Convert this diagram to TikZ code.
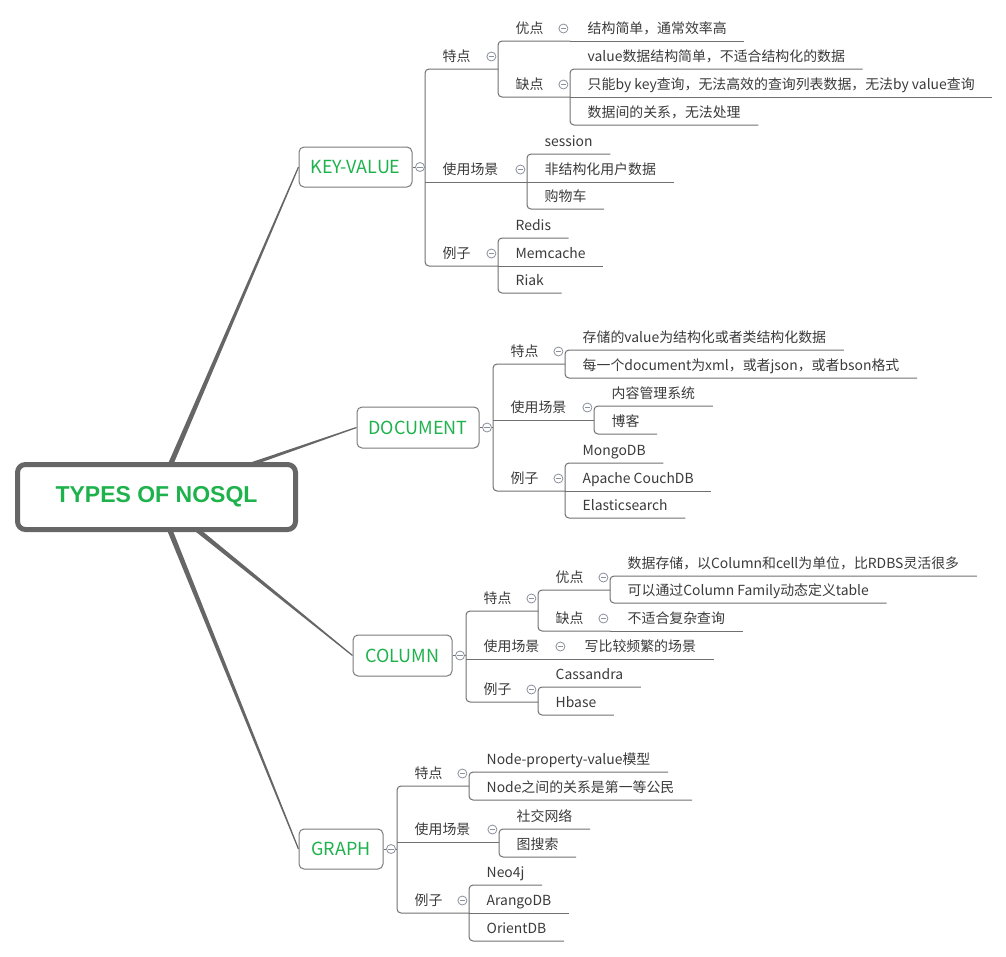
\documentclass[tikz,border=0pt]{standalone}
\usepackage{fontspec}
\setmainfont{Noto Sans CJK SC}
\newfontfamily\rootfont{Liberation Sans}
\usetikzlibrary{calc,backgrounds}
\definecolor{ln}{HTML}{707070}
\definecolor{rootc}{HTML}{666666}
\definecolor{bx}{HTML}{7A7A7A}
\definecolor{grn}{RGB}{30,178,76}
\definecolor{txt}{HTML}{3A3A3A}
\definecolor{tg}{HTML}{8A909C}
\newcommand\tfs{\fontsize{13.9}{16}\selectfont}
\newcommand\brfs{\fontsize{18}{20}\selectfont}
\newcommand\tog[1]{\node[toggle] (t-#1) at ($(#1.south east)+(-7,-12.5)$) {};}
\newcommand\btog[1]{\node[toggle] (t-#1) at ($(#1.east)+(7.5,0)$) {};}
\newcommand\taper[2]{\fill[rootc] ($(#1)!2.8pt!90:(#2)$) -- ($(#2)!0.6pt!-90:(#1)$) -- ($(#2)!0.6pt!90:(#1)$) -- ($(#1)!2.8pt!-90:(#2)$) -- cycle;}
\tikzset{
  topic/.style={anchor=south west, inner xsep=17.5pt, inner ysep=7.7pt, text depth=0pt, text height=10pt, font=\tfs, text=txt},
  par/.style={topic, text width=#1, align=left},
  conn/.style={draw=ln, line width=1pt},
  grp/.style={conn, rounded corners=4pt},
  toggle/.style={circle, draw=tg, fill=white, line width=0.8pt, minimum size=9pt, inner sep=0pt,
    path picture={\draw[tg,line width=0.8pt] ($(path picture bounding box.center)+(-2.6,0)$) -- ($(path picture bounding box.center)+(2.6,0)$);}},
  branch/.style={draw=bx, line width=1pt, rounded corners=5pt, fill=white, font=\brfs, text=grn, inner sep=0pt},
  rootbox/.style={draw=rootc, line width=5pt, rounded corners=8pt, fill=white, minimum width=278pt, minimum height=65pt,
    font=\rootfont\bfseries\fontsize{23}{26}\selectfont, text=grn, inner sep=0pt}
}
\begin{document}
\begin{tikzpicture}[x=1pt,y=-1pt]
\useasboundingbox (0,0) rectangle (1006,956);

% root and main branches
\node[rootbox] (root) at (156.5,497) {TYPES OF NOSQL};
\node[branch, minimum width=113pt, minimum height=40pt] (kv) at (355.5,167) {KEY-VALUE};
\node[branch, minimum width=122pt, minimum height=41pt] (doc) at (418,427.5) {DOCUMENT};
\node[branch, minimum width=99pt, minimum height=41pt] (col) at (402.5,655.5) {COLUMN};
\node[branch, minimum width=84pt, minimum height=40pt] (gr) at (341,849) {GRAPH};

\begin{scope}[on background layer]
\taper{root.center}{kv.west}
\taper{root.center}{doc.west}
\taper{root.center}{col.west}
\taper{root.center}{gr.west}
\end{scope}

% ---------- KEY-VALUE ----------
\node[par=38pt] (kv1) at (425,69) {特点};
\node[par=37pt] (kv11) at (498,41) {优点};
\node[topic] (kv111) at (570,41) {结构简单，通常效率高};
\node[par=37pt] (kv12) at (498,97) {缺点};
\node[topic] (kv121) at (570,69) {value数据结构简单，不适合结构化的数据};
\node[topic] (kv122) at (570,97) {只能by key查询，无法高效的查询列表数据，无法by value查询};
\node[topic] (kv123) at (570,125) {数据间的关系，无法处理};
\node[par=67pt] (kv2) at (425,182) {使用场景};
\node[topic] (kv21) at (527,154) {session};
\node[topic] (kv22) at (527,182) {非结构化用户数据};
\node[topic] (kv23) at (527,209) {购物车};
\node[par=38pt] (kv3) at (425,266) {例子};
\node[topic] (kv31) at (498,238) {Redis};
\node[topic] (kv32) at (498,266) {Memcache};
\node[topic] (kv33) at (498,293) {Riak};

\draw[conn] (kv.east) -- (kv1.south west |- kv.east);
\draw[grp] (kv1.south east) -- (kv1.south west) -- (kv3.south west) -- (kv3.south east);
\draw[conn] (kv2.south west) -- (kv2.south east);
\draw[grp] (kv11.south east) -- (kv11.south west) -- (kv12.south west) -- (kv12.south east);
\draw[conn] (kv111.south west) -- (kv111.south east);
\draw[grp] (kv121.south east) -- (kv121.south west) -- (kv123.south west) -- (kv123.south east);
\draw[conn] (kv122.south west) -- (kv122.south east);
\draw[grp] (kv21.south east) -- (kv21.south west) -- (kv23.south west) -- (kv23.south east);
\draw[conn] (kv22.south west) -- (kv22.south east);
\draw[grp] (kv31.south east) -- (kv31.south west) -- (kv33.south west) -- (kv33.south east);
\draw[conn] (kv32.south west) -- (kv32.south east);

% ---------- DOCUMENT ----------
\node[par=37pt] (d1) at (493,364) {特点};
\node[topic] (d11) at (565,350) {存储的value为结构化或者类结构化数据};
\node[topic] (d12) at (565,378) {每一个document为xml，或者json，或者bson格式};
\node[par=66pt] (d2) at (493,420) {使用场景};
\node[topic] (d21) at (594,406) {内容管理系统};
\node[topic] (d22) at (594,434) {博客};
\node[par=37pt] (d3) at (493,491) {例子};
\node[topic] (d31) at (565,463) {MongoDB};
\node[topic] (d32) at (565,491) {Apache CouchDB};
\node[topic] (d33) at (565,518) {Elasticsearch};

\draw[conn] (doc.east) -- (d1.south west |- doc.east);
\draw[grp] (d1.south east) -- (d1.south west) -- (d3.south west) -- (d3.south east);
\draw[conn] (d2.south west) -- (d2.south east);
\draw[grp] (d11.south east) -- (d11.south west) -- (d12.south west) -- (d12.south east);
\draw[grp] (d21.south east) -- (d21.south west) -- (d22.south west) -- (d22.south east);
\draw[grp] (d31.south east) -- (d31.south west) -- (d33.south west) -- (d33.south east);
\draw[conn] (d32.south west) -- (d32.south east);

% ---------- COLUMN ----------
\node[par=37pt] (c1) at (466,611) {特点};
\node[par=37pt] (c11) at (538,590) {优点};
\node[topic] (c111) at (610,576) {数据存储，以Column和cell为单位，比RDBS灵活很多};
\node[topic] (c112) at (610,603) {可以通过Column Family动态定义table};
\node[par=37pt] (c12) at (538,631) {缺点};
\node[topic] (c121) at (610,631) {不适合复杂查询};
\node[par=66pt] (c2) at (466,659) {使用场景};
\node[topic] (c21) at (567,659) {写比较频繁的场景};
\node[par=37pt] (c3) at (466,702) {例子};
\node[topic] (c31) at (538,687) {Cassandra};
\node[topic] (c32) at (538,715) {Hbase};

\draw[conn] (col.east) -- (c1.south west |- col.east);
\draw[grp] (c1.south east) -- (c1.south west) -- (c3.south west) -- (c3.south east);
\draw[conn] (c2.south west) -- (c2.south east);
\draw[grp] (c11.south east) -- (c11.south west) -- (c12.south west) -- (c12.south east);
\draw[grp] (c111.south east) -- (c111.south west) -- (c112.south west) -- (c112.south east);
\draw[conn] (c121.south west) -- (c121.south east);
\draw[conn] (c21.south west) -- (c21.south east);
\draw[grp] (c31.south east) -- (c31.south west) -- (c32.south west) -- (c32.south east);

% ---------- GRAPH ----------
\node[par=37pt] (g1) at (397,786) {特点};
\node[topic] (g11) at (469,772) {Node-property-value模型};
\node[topic] (g12) at (469,800) {Node之间的关系是第一等公民};
\node[par=67pt] (g2) at (397,842) {使用场景};
\node[topic] (g21) at (499,829) {社交网络};
\node[topic] (g22) at (499,857) {图搜索};
\node[par=37pt] (g3) at (397,913) {例子};
\node[topic] (g31) at (469,885) {Neo4j};
\node[topic] (g32) at (469,913) {ArangoDB};
\node[topic] (g33) at (469,941) {OrientDB};

\draw[conn] (gr.east) -- (g1.south west |- gr.east);
\draw[grp] (g1.south east) -- (g1.south west) -- (g3.south west) -- (g3.south east);
\draw[conn] (g2.south west) -- (g2.south east);
\draw[grp] (g11.south east) -- (g11.south west) -- (g12.south west) -- (g12.south east);
\draw[grp] (g21.south east) -- (g21.south west) -- (g22.south west) -- (g22.south east);
\draw[grp] (g31.south east) -- (g31.south west) -- (g33.south west) -- (g33.south east);
\draw[conn] (g32.south west) -- (g32.south east);

% ---------- collapse toggles ----------
\btog{kv} \btog{doc} \btog{col} \btog{gr}
\tog{kv1} \tog{kv11} \tog{kv12} \tog{kv2} \tog{kv3}
\tog{d1} \tog{d2} \tog{d3}
\tog{c1} \tog{c11} \tog{c12} \tog{c2} \tog{c3}
\tog{g1} \tog{g2} \tog{g3}
\end{tikzpicture}
\end{document}
